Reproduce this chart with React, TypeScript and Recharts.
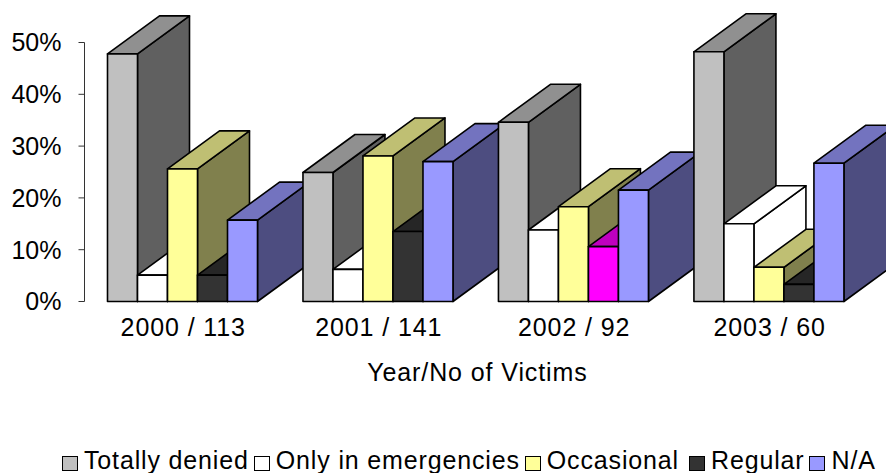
import { Bar, BarChart, Legend, XAxis, YAxis } from 'recharts';

const categories = ['2000 / 113', '2001 / 141', '2002 / 92', '2003 / 60'];
const seriesNames = ['Totally denied', 'Only in emergencies', 'Occasional', 'Regular', 'N/A'];
const totallyDenied = [47.8, 24.9, 34.6, 48.2];
const onlyInEmergencies = [5.1, 6.2, 13.8, 15.0];
const occasional = [25.6, 28.1, 18.3, 6.6];
const regular = [5.1, 13.5, 10.6, 3.3];
const notAvailable = [15.7, 27.0, 21.5, 26.7];
const yTicks = [0, 10, 20, 30, 40, 50];

const seriesValues = [totallyDenied, onlyInEmergencies, occasional, regular, notAvailable];
const seriesColors = ['#C0C0C0', '#FFFFFF', '#FFFF99', '#333333', '#9999FF'];
// the 2002 "Regular" bar is magenta in the original
const cellOverrides: Record<string, string> = { '3_2': '#FF00FF' };

// one column per series+year, so the bars can be painted year by year
const tableData = categories.map((name, c) => {
  const row: Record<string, string | number> = { name };
  seriesValues.forEach((vals, s) => {
    row[`${s}_${c}`] = vals[c];
  });
  return row;
});

const FONT = '"Liberation Sans", Arial, sans-serif';
const DEPTH_X = 52;
const DEPTH_Y = 38;
const LEGEND_GAPS = [5, 5, 10, 5, 0];

const shade = (hex: string, k: number) => {
  if (hex === '#FFFFFF') return hex;
  const n = parseInt(hex.slice(1), 16);
  const f = (v: number) => Math.round(v * k);
  return `rgb(${f((n >> 16) & 255)},${f((n >> 8) & 255)},${f(n & 255)})`;
};

const Bar3D = (props: any) => {
  const { x, y, width, height, fill } = props;
  if (!height || height <= 0) return null;
  const r = x + width;
  const b = y + height;
  const line = { stroke: '#000', strokeWidth: 1.6, strokeLinejoin: 'round' as const };
  return (
    <g>
      <polygon
        points={`${r},${y} ${r + DEPTH_X},${y - DEPTH_Y} ${r + DEPTH_X},${b - DEPTH_Y} ${r},${b}`}
        fill={shade(fill, 0.5)}
        {...line}
      />
      <polygon
        points={`${x},${y} ${x + DEPTH_X},${y - DEPTH_Y} ${r + DEPTH_X},${y - DEPTH_Y} ${r},${y}`}
        fill={shade(fill, 0.75)}
        {...line}
      />
      <rect x={x} y={y} width={width} height={height} fill={fill} {...line} />
    </g>
  );
};

const LegendRow = () => (
  <div
    style={{
      display: 'flex',
      alignItems: 'center',
      whiteSpace: 'nowrap',
      fontFamily: FONT,
      fontSize: 25,
      letterSpacing: 0.85,
      lineHeight: '29px',
      color: '#000',
    }}
  >
    {seriesNames.map((name, i) => (
      <div key={name} style={{ display: 'flex', alignItems: 'center', marginRight: LEGEND_GAPS[i] }}>
        <span
          style={{
            display: 'inline-block',
            boxSizing: 'border-box',
            width: 16,
            height: 15,
            marginRight: 6,
            marginTop: 6,
            background: seriesColors[i],
            border: '1.5px solid #000',
          }}
        />
        <span>{name}</span>
      </div>
    ))}
  </div>
);

export default function App() {
  return (
    <div style={{ position: 'absolute', left: 0, top: 0, width: 886, height: 473, overflow: 'hidden' }}>
      <BarChart
        width={886}
        height={473}
        data={tableData}
        barSize={30}
        barGap={0}
        margin={{ top: 42.5, right: 19.6, left: 0, bottom: 62.5 }}
      >
        <XAxis
          dataKey="name"
          axisLine={false}
          tickLine={false}
          height={80}
          tickMargin={11}
          tick={{ fontSize: 25, fill: '#000', fontFamily: FONT, letterSpacing: 0.9, dx: 1 }}
          interval={0}
          label={{
            value: 'Year/No of Victims',
            position: 'insideBottom',
            offset: 1,
            dx: 2,
            fontSize: 25,
            fill: '#000',
            fontFamily: FONT,
            letterSpacing: 0.9,
          }}
        />
        <YAxis
          width={84.5}
          domain={[0, 50]}
          ticks={yTicks}
          tickFormatter={(v: number) => `${v}%`}
          axisLine={{ stroke: '#333' }}
          tickLine={{ stroke: '#333' }}
          tickSize={6}
          tickMargin={17}
          tick={{ fontSize: 25, fill: '#000', fontFamily: FONT }}
        />
        <Legend
          content={<LegendRow />}
          wrapperStyle={{ position: 'absolute', left: 62, top: 446, width: 824 }}
        />
        {categories.flatMap((_, c) =>
          seriesNames.map((name, s) => (
            <Bar
              key={`${s}_${c}`}
              dataKey={`${s}_${c}`}
              stackId={name}
              fill={cellOverrides[`${s}_${c}`] ?? seriesColors[s]}
              shape={Bar3D}
              legendType="none"
              isAnimationActive={false}
            />
          ))
        )}
      </BarChart>
    </div>
  );
}
